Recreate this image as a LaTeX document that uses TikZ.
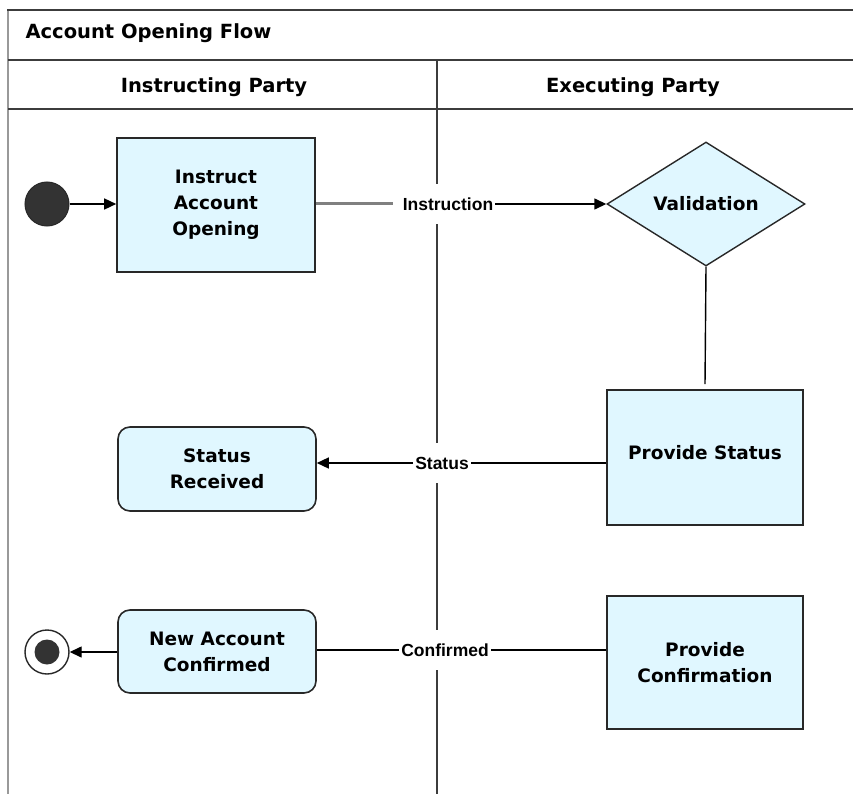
\documentclass[tikz,border=0pt]{standalone}
\usepackage{fontspec}
\setmainfont{DejaVu Sans}
\newfontfamily\labelfont{Liberation Sans}
\usetikzlibrary{shapes.geometric,arrows.meta}
\definecolor{boxfill}{RGB}{224,247,255}
\definecolor{edgecol}{RGB}{40,40,40}
\definecolor{framecol}{RGB}{60,60,60}
\begin{document}
\begin{tikzpicture}[x=1pt,y=-1pt,
  framel/.style={draw=framecol,line width=1.6pt},
  act/.style={draw=edgecol,fill=boxfill,line width=1.6pt,align=center,
    font=\bfseries\fontsize{18.5}{26}\selectfont,inner sep=0pt},
  ract/.style={act,rounded corners=12pt},
  title/.style={font=\bfseries\fontsize{19.5}{24}\selectfont},
  flowlbl/.style={fill=white,font=\labelfont\bfseries\fontsize{17.5}{22}\selectfont,
    inner xsep=2pt,inner ysep=14pt},
  flow/.style={draw=black,line width=1.4pt},
  tip/.style={-{Triangle[length=12pt,width=11pt]}}
]
\useasboundingbox (0,0) rectangle (853,794);
% frame
\draw[draw=gray!80,line width=2pt] (8,794) -- (8,10);
\draw[framel] (7,10) -- (853,10);
\draw[framel] (8,60) -- (853,60);
\draw[framel] (8,109) -- (853,109);
\draw[framel,line width=1.5pt] (437,60) -- (437,794);
\node[title,anchor=west] (ttl) at (22,33) {Account Opening Flow};
\node[title] (lane1) at (214,87) {Instructing Party};
\node[title] (lane2) at (633,87) {Executing Party};

% nodes
\node[circle,draw=edgecol,fill=black!80,line width=1pt,minimum size=44pt,inner sep=0pt] (start) at (47,204) {};
\node[act,minimum width=198pt,minimum height=134pt] (instr) at (216,205) {Instruct\\Account\\Opening};
\node[diamond,draw=edgecol,fill=boxfill,line width=1.4pt,minimum width=198pt,minimum height=124pt,inner sep=0pt,
  font=\bfseries\fontsize{18.5}{26}\selectfont] (valid) at (706,204) {Validation};
\node[act,minimum width=196pt,minimum height=135pt,text depth=10pt] (pstat) at (705,457.5) {Provide Status};
\node[ract,minimum width=198pt,minimum height=84pt] (srecv) at (217,469) {Status\\Received};
\node[ract,minimum width=198pt,minimum height=83pt] (newacc) at (217,651.5) {New Account\\Confirmed};
\node[act,minimum width=196pt,minimum height=133pt] (pconf) at (705,662.5) {Provide\\Confirmation};
\node[circle,draw=edgecol,fill=white,line width=1.4pt,minimum size=44pt,inner sep=0pt] (final) at (47,652) {};
\node[circle,fill=black!80,minimum size=25pt,inner sep=0pt] (finalin) at (final.center) {};

% labels
\node[flowlbl] (linstr) at (448,204) {Instruction};
\node[flowlbl] (lstat) at (442,463) {Status};
\node[flowlbl] (lconf) at (445,650) {Confirmed};

% connectors
\draw[flow,tip] (start) -- (instr.west |- start);
\draw[draw=gray,line width=3pt] (instr.east |- linstr) -- ([xshift=-8pt]linstr.west);
\draw[flow,tip] (linstr.east) -- (valid.west);
\draw[flow] (valid.south) -- ([yshift=5pt]pstat.north);
\draw[flow] (pstat.west |- lstat) -- (lstat.east);
\draw[flow,tip] (lstat.west) -- (srecv.east |- lstat);
\draw[flow] (pconf.west |- lconf) -- (lconf.east);
\draw[flow] (lconf.west) -- (newacc.east |- lconf);
\draw[flow,tip] (newacc.west |- final) -- (final.east);
\end{tikzpicture}
\end{document}
